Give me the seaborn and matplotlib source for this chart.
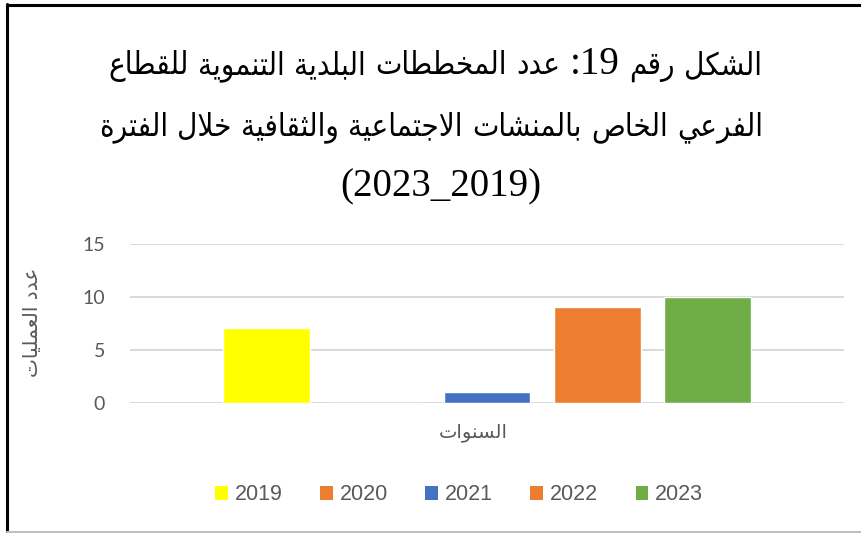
import numpy as np
import pandas as pd
import matplotlib
matplotlib.use('Agg')
import matplotlib.pyplot as plt
import seaborn as sns
from matplotlib.patches import Patch
from matplotlib.lines import Line2D

# ---------------- data ----------------
years = ['2019', '2020', '2021', '2022', '2023']
values = [7, 0, 1, 9, 10]
colors = ['#FFFF00', '#ED7D31', '#4472C4', '#ED7D31', '#70AD47']
category = 'السنوات'
y_label = 'عدد العمليات'
title_lines = ['الشكل رقم 19: عدد المخططات البلدية التنموية للقطاع',
               'الفرعي الخاص بالمنشات الاجتماعية والثقافية خلال الفترة',
               '(2023_2019)']
y_ticks = [0, 5, 10, 15]

# ---------------- minimal Arabic shaping ----------------
TABLE = {
    'ء': (0xFE80, 1),
    'آ': (0xFE81, 2), 'أ': (0xFE83, 2), 'ؤ': (0xFE85, 2), 'إ': (0xFE87, 2),
    'ا': (0xFE8D, 2), 'ة': (0xFE93, 2), 'د': (0xFEA9, 2), 'ذ': (0xFEAB, 2),
    'ر': (0xFEAD, 2), 'ز': (0xFEAF, 2), 'و': (0xFEED, 2), 'ى': (0xFEEF, 2),
    'ئ': (0xFE89, 4), 'ب': (0xFE8F, 4), 'ت': (0xFE95, 4), 'ث': (0xFE99, 4),
    'ج': (0xFE9D, 4), 'ح': (0xFEA1, 4), 'خ': (0xFEA5, 4), 'س': (0xFEB1, 4),
    'ش': (0xFEB5, 4), 'ص': (0xFEB9, 4), 'ض': (0xFEBD, 4), 'ط': (0xFEC1, 4),
    'ظ': (0xFEC5, 4), 'ع': (0xFEC9, 4), 'غ': (0xFECD, 4), 'ف': (0xFED1, 4),
    'ق': (0xFED5, 4), 'ك': (0xFED9, 4), 'ل': (0xFEDD, 4), 'م': (0xFEE1, 4),
    'ن': (0xFEE5, 4), 'ه': (0xFEE9, 4), 'ي': (0xFEF1, 4),
}
LAMALEF = {'آ': 0xFEF5, 'أ': 0xFEF7, 'إ': 0xFEF9, 'ا': 0xFEFB}


def shape_word(w):
    out = []
    i, n = 0, len(w)
    prev_joins = False
    while i < n:
        c = w[i]
        if c == 'ل' and i + 1 < n and w[i + 1] in LAMALEF:
            out.append(chr(LAMALEF[w[i + 1]] + (1 if prev_joins else 0)))
            prev_joins = False
            i += 2
            continue
        if c in TABLE:
            base, k = TABLE[c]
            nxt = w[i + 1] if i + 1 < n else None
            next_joins = k == 4 and nxt in TABLE and TABLE[nxt][1] > 1
            if k == 1:
                f = 0
            elif k == 2:
                f = 1 if prev_joins else 0
            else:
                if prev_joins and next_joins:
                    f = 3
                elif prev_joins:
                    f = 1
                elif next_joins:
                    f = 2
                else:
                    f = 0
            out.append(chr(base + f))
            prev_joins = (k == 4)
        else:
            out.append(c)
            prev_joins = False
        i += 1
    return ''.join(out)


def is_arabic(w):
    return any('\u0600' <= ch <= '\u06FF' for ch in w)


def visual_rtl(s):
    return ' '.join(shape_word(w)[::-1] if is_arabic(w) else w
                    for w in s.split(' ')[::-1])


# ---------------- figure ----------------
sns.set_theme(style='white')
W, H = 862, 533
fig = plt.figure(figsize=(W / 100, H / 100), dpi=100)
fig.patch.set_facecolor('white')
renderer = fig.canvas.get_renderer()

ax_l, ax_r, ax_t, ax_b = 130, 844, 243.7, 402.7
ax = fig.add_axes([ax_l / W, 1 - ax_b / H, (ax_r - ax_l) / W, (ax_b - ax_t) / H])

df = pd.DataFrame({'cat': [category] * len(years), 'year': years, 'value': values})
sns.barplot(data=df, x='cat', y='value', hue='year', hue_order=years,
            palette=colors, saturation=1, width=0.8, gap=0.21,
            legend=False, ax=ax)

ax.set_ylim(0, 15)
ax.set_xlim(-0.519, 0.519)
ax.set_yticks(y_ticks)
ax.set_yticklabels([str(t) for t in y_ticks], family='Lato', fontsize=14, color='#595959')
ax.set_xticks([])
ax.tick_params(axis='y', length=0, pad=18)
ax.set_xlabel('')
ax.set_ylabel('')
ax.yaxis.grid(True, color='#D9D9D9', linewidth=1.4)
ax.xaxis.grid(False)
ax.set_axisbelow(True)
for s in ax.spines.values():
    s.set_visible(False)

# category label under the bars
fig.text(473 / W, 1 - 433 / H, visual_rtl(category), ha='center', va='center',
         family=['DejaVu Sans'], fontsize=14, color='#595959')

# y label
fig.text(33 / W, 1 - 322 / H, visual_rtl(y_label), rotation=90, ha='center', va='center',
         family=['DejaVu Sans'], fontsize=14.5, color='#595959')

AR_FONT = dict(family='DejaVu Sans', fontstretch='condensed')
LAT_FONT = dict(family='Liberation Serif')


# title: right-to-left lines, Arabic words in DejaVu Sans, numbers in Liberation Serif
def make_pieces(logical, ar_size, lat_size):
    pieces = []
    for tok in logical.split(' ')[::-1]:
        if is_arabic(tok):
            pieces.append((shape_word(tok)[::-1], AR_FONT, ar_size))
        else:
            if tok.endswith(':'):
                tok = ':' + tok[:-1]
            pieces.append((tok, LAT_FONT, lat_size))
    return pieces


def line_width(pieces, ar_size):
    total = 0.0
    for txt, font, size in pieces:
        t = fig.text(0, 0, txt, fontsize=size, **font)
        total += t.get_window_extent(renderer).width
        t.remove()
    total += (len(pieces) - 1) * 0.3 * ar_size * 100 / 72
    return total


def draw_line(pieces, ar_size, x_center, baseline):
    widths = []
    texts = []
    for txt, font, size in pieces:
        t = fig.text(0, 1 - baseline / H, txt, fontsize=size, color='black',
                     ha='left', va='baseline', **font)
        widths.append(t.get_window_extent(renderer).width)
        texts.append(t)
    space = 0.3 * ar_size * 100 / 72
    total = sum(widths) + space * (len(pieces) - 1)
    x = x_center - total / 2
    for t, w in zip(texts, widths):
        t.set_x(x / W)
        x += w + space


lat_size = 28
# calibrate Arabic size so that the first line is as wide as in the reference
probe = 20
pieces0 = make_pieces(title_lines[0], probe, lat_size)
w_probe = line_width(pieces0, probe)
lat_w = sum(line_width([p], 0) for p in pieces0 if p[1] is LAT_FONT)
ar_size = probe * (654 - lat_w) / (w_probe - lat_w)

baselines = [74, 135.5, 196]
centers = [435, 431, 441]
for line, b, xc in zip(title_lines, baselines, centers):
    draw_line(make_pieces(line, ar_size, lat_size), ar_size, xc, b)

# legend
handles = [Patch(facecolor=c, edgecolor='none') for c in colors]
leg = fig.legend(handles, years, loc='center', bbox_to_anchor=(459 / W, 1 - 495 / H),
                 ncol=5, frameon=False, handlelength=0.6, handleheight=0.6,
                 handletextpad=0.3, columnspacing=1.75,
                 prop={'family': 'Liberation Sans', 'size': 15.5})
for t in leg.get_texts():
    t.set_color('#595959')

# chart frame
fig.add_artist(Line2D([7.5 / W, 7.5 / W], [0, 1 - 4 / H], color='black', lw=2.2))
fig.add_artist(Line2D([7 / W, 1], [1 - 4.5 / H, 1 - 4.5 / H], color='black', lw=2.2))
fig.add_artist(Line2D([7 / W, 1], [1 - 531.5 / H, 1 - 531.5 / H], color='#BFBFBF', lw=1.5))

fig.savefig('out.png', dpi=100, facecolor='white')
